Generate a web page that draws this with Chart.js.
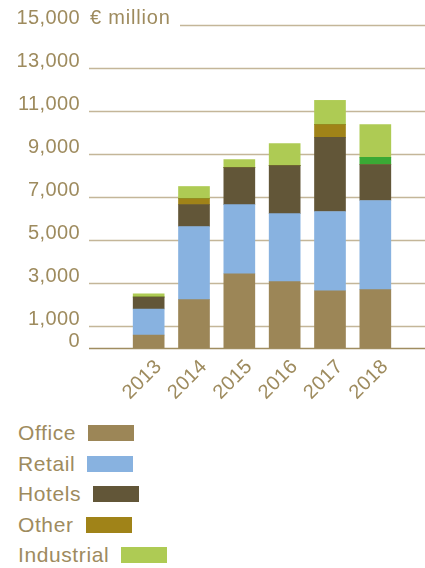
<!DOCTYPE html>
<html>
<head>
<meta charset="utf-8">
<script src="https://cdn.jsdelivr.net/npm/chart.js@4/dist/chart.umd.min.js"></script>
<style>
  body { margin: 0; background: #fff; font-family: "Liberation Sans", Arial, sans-serif; }
  #wrap { position: relative; width: 425px; height: 568px; }
  #chartBox { position: absolute; left: 0; top: 0; width: 425px; height: 410px; }
  #legend { position: absolute; left: 18px; top: 418px; }
  .row { display: flex; align-items: center; height: 30.5px; font-size: 21px; letter-spacing: 0.6px; color: #9e8b5e; }
  .box { display: inline-block; width: 46px; height: 16px; margin-left: 12px; }
</style>
</head>
<body>
<div id="wrap">
  <div id="chartBox"><canvas id="investChart"></canvas></div>
  <div id="legend"></div>
</div>
<script>
// data (€ million)
const years = ['2013', '2014', '2015', '2016', '2017', '2018'];
const office = [600, 2250, 3450, 3080, 2660, 2710];
const retail = [1210, 3390, 3210, 3160, 3680, 4140];
const hotels = [560, 1020, 1720, 2230, 3440, 1670];
const other = [0, 280, 0, 0, 600, 0];
const unlabelled = [0, 0, 0, 0, 0, 330];
const industrial = [140, 560, 370, 1020, 1120, 1530];
const yTicks = [0, 1000, 3000, 5000, 7000, 9000, 11000, 13000, 15000];
const unit = '€ million';

const textColor = '#9e8b5e';
const font = { family: '"Liberation Sans", Arial, sans-serif', size: 20 };

const series = [
    { label: 'Office', data: office, color: '#9c8657' },
    { label: 'Retail', data: retail, color: '#88b2e0' },
    { label: 'Hotels', data: hotels, color: '#625638' },
    { label: 'Other', data: other, color: '#a08318' },
    { label: '', data: unlabelled, color: '#3aa935', noLegend: true },
    { label: 'Industrial', data: industrial, color: '#aecb54' }
];

// horizontal lines run past the plot area, drawn from the y scale
const gridLines = {
    id: 'gridLines',
    beforeDraw(chart) {
        chart.ctx.letterSpacing = '0.4px';
    },
    beforeDatasetsDraw(chart) {
        const ctx = chart.ctx;
        const y = chart.scales.y;
        ctx.save();
        yTicks.forEach(v => {
            const py = Math.round(y.getPixelForValue(v)) + 0.5;
            ctx.beginPath();
            ctx.strokeStyle = v === 0 ? '#a08d60' : '#c4b699';
            ctx.lineWidth = 1.5;
            ctx.moveTo(v === 15000 ? 180 : 89, py);
            ctx.lineTo(chart.width, py);
            ctx.stroke();
        });
        ctx.restore();
    },
    afterDraw(chart) {
        const ctx = chart.ctx;
        const y = chart.scales.y;
        ctx.save();
        ctx.font = font.size + 'px ' + font.family;
        ctx.letterSpacing = '0.8px';
        ctx.fillStyle = textColor;
        ctx.textAlign = 'left';
        ctx.textBaseline = 'middle';
        ctx.fillText(unit, 90, y.getPixelForValue(15000) - 6.5);
        ctx.restore();
    }
};

const ctx = document.getElementById('investChart').getContext('2d');
new Chart(ctx, {
    type: 'bar',
    data: {
        labels: years,
        datasets: series.map(s => ({
            label: s.label,
            data: s.data,
            backgroundColor: s.color,
            barThickness: 31,
            borderWidth: 0
        }))
    },
    options: {
        responsive: true,
        maintainAspectRatio: false,
        animation: false,
        layout: { padding: { top: 25, right: 27, bottom: 0, left: 0 } },
        plugins: {
            legend: { display: false },
            tooltip: { enabled: false }
        },
        scales: {
            x: {
                stacked: true,
                grid: { display: false },
                border: { display: false },
                ticks: {
                    color: textColor,
                    font: font,
                    autoSkip: false,
                    minRotation: 45,
                    maxRotation: 45,
                    padding: -1,
                    labelOffset: 10
                },
                afterFit: scale => {
                    scale.height = 62;
                    scale.paddingLeft = 0;
                    scale.paddingRight = 0;
                }
            },
            y: {
                stacked: true,
                min: 0,
                max: 15000,
                grid: { display: false },
                border: { display: false },
                afterBuildTicks: scale => {
                    scale.ticks = yTicks.map(v => ({ value: v }));
                },
                afterFit: scale => {
                    scale.width = 126;
                    scale.paddingTop = 0;
                    scale.paddingBottom = 0;
                },
                ticks: {
                    color: textColor,
                    font: font,
                    padding: 38,
                    labelOffset: -6.5,
                    callback: v => v.toLocaleString('en-US')
                }
            }
        }
    },
    plugins: [gridLines]
});

// legend: label first, colour box after it
const legend = document.getElementById('legend');
series.filter(s => !s.noLegend).forEach(s => {
    const row = document.createElement('div');
    row.className = 'row';
    row.textContent = s.label;
    const box = document.createElement('span');
    box.className = 'box';
    box.style.background = s.color;
    row.appendChild(box);
    legend.appendChild(row);
});
</script>
</body>
</html>
